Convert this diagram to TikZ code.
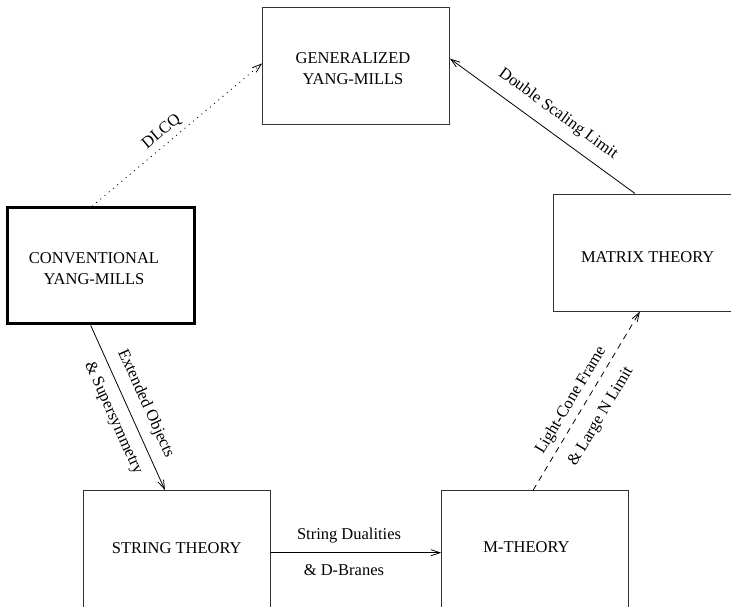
\documentclass[tikz,border=0pt]{standalone}
\usepackage{fontspec}
\setmainfont{Liberation Serif}
\usetikzlibrary{arrows.meta,calc}
\newcommand{\bxt}[3]{\raisebox{#2}[0pt][0pt]{\makebox[0pt]{\hspace*{#1}\begin{tabular}{@{}c@{}}#3\end{tabular}\hspace*{-#1}}}}
\begin{document}
\begin{tikzpicture}[x=1pt,y=-1pt,
  font=\fontsize{16.5}{21}\selectfont,
  box/.style={draw=black!80, line width=1pt, rectangle, minimum width=186.7pt, minimum height=117pt, inner sep=0pt},
  thickbox/.style={box, draw=black, line width=3pt, minimum height=116pt},
  conn/.style={line width=0.8pt, -{Straight Barb[length=9pt,width=6pt]}},
  lab/.style={sloped, inner sep=#1}]
\clip (0,0) rectangle (731,607);
\node[box] (gen) at (356,66.2) {\bxt{-3pt}{-8.2pt}{GENERALIZED\\YANG-MILLS}};
\node[thickbox] (conv) at (100.7,265.8) {\bxt{-6.7pt}{-8.3pt}{CONVENTIONAL\\YANG-MILLS}};
\node[box] (mat) at (646.7,252.5) {\bxt{1pt}{-10.4pt}{MATRIX THEORY}};
\node[box, minimum height=117.7pt] (str) at (176.7,549.5) {\bxt{0pt}{-4pt}{STRING THEORY}};
\node[box, minimum height=117.7pt] (mth) at (535,549.5) {\bxt{-8.5pt}{-3.5pt}{M-THEORY}};
\draw[conn, dash pattern=on 1pt off 4.5pt] ($(conv.north west)!0.454!(conv.north east)$) -- node[lab=5pt, above, pos=0.455]{DLCQ} ($(gen.north west)!0.476!(gen.south west)$);
\draw[conn] ($(mat.north west)!0.4375!(mat.north east)$) -- node[lab=11pt, above, pos=0.476]{Double Scaling Limit} ($(gen.north east)!0.435!(gen.south east)$);
\draw[conn] ($(conv.south west)!0.447!(conv.south east)$) -- node[lab=10pt, above, pos=0.52]{Extended Objects} node[lab=10pt, below, pos=0.52]{\& Supersymmetry} ($(str.north west)!0.4376!(str.north east)$);
\draw[conn] ($(str.north east)!0.527!(str.south east)$) -- node[lab=9pt, above, pos=0.46]{String Dualities} node[lab=11pt, below, pos=0.43]{\& D-Branes} ($(mth.north west)!0.527!(mth.south west)$);
\draw[conn, dash pattern=on 6pt off 5pt] ($(mth.north west)!0.49!(mth.north east)$) -- node[lab=5.5pt, above, pos=0.464]{Light-Cone Frame} node[lab=13pt, below, pos=0.471]{\& Large N Limit} ($(mat.south west)!0.464!(mat.south east)$);
\end{tikzpicture}
\end{document}
